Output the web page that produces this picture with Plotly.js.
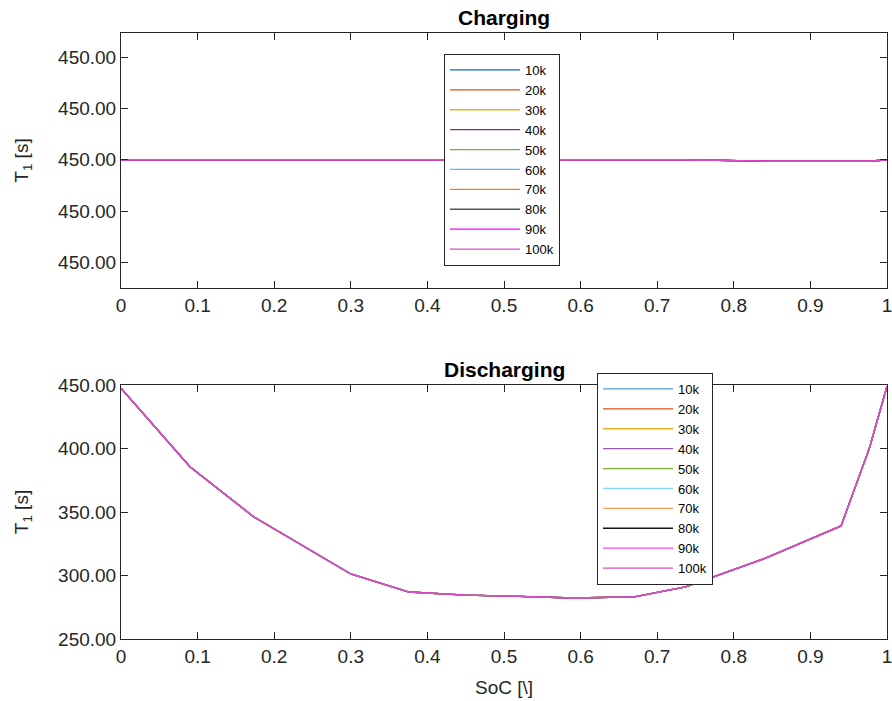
<!DOCTYPE html>
<html><head><meta charset="utf-8">
<script src="https://cdn.plot.ly/plotly-3.0.1.min.js"></script>
<style>body{margin:0;background:#fff}#chart{width:892px;height:701px}</style>
</head><body><div id="chart"></div>
<script>
const seriesNames = ['10k','20k','30k','40k','50k','60k','70k','80k','90k','100k'];
const socCharge = [0, 0.09, 0.173, 0.3, 0.376, 0.45, 0.52, 0.59, 0.67, 0.737, 0.843, 0.94, 0.977, 1.0];
const t1Charge = [450, 450, 450, 450, 450, 450, 450, 450, 450, 450, 449.999997, 449.999997, 449.999997, 450];
const socDischarge = [0, 0.09, 0.173, 0.3, 0.376, 0.45, 0.52, 0.59, 0.67, 0.737, 0.843, 0.94, 0.977, 1.0];
const t1Discharge = [447.5, 385.7, 346.3, 301.2, 287.0, 284.6, 283.5, 282.3, 283.1, 291.0, 314.0, 339.0, 400.2, 449.0];
const colorsCharge = ['#0072BD','#D95319','#EDB120','#7E2F8E','#77AC30','#4DBEEE','#F07F1E','#555555','#FF00FF','#D652C4'];
const colorsDischarge = ['#4C9FD8','#D95319','#EDB120','#9B59B6','#77AC30','#80D4F5','#F2A055','#111111','#FF44FF','#D652C4'];
const chargeTicks = [449.9998, 449.9999, 450, 450.0001, 450.0002];
const dischargeTicks = [250, 300, 350, 400, 450];
const xTicks = [0,0.1,0.2,0.3,0.4,0.5,0.6,0.7,0.8,0.9,1];
const xTickText = ['0','0.1','0.2','0.3','0.4','0.5','0.6','0.7','0.8','0.9','1'];

const traces = [];
seriesNames.forEach((n,i)=>{
  traces.push({x: socCharge, y: t1Charge, name: n, mode:'lines', xaxis:'x', yaxis:'y',
    line:{color: colorsCharge[i], width:1.3}, legend:'legend'});
});
seriesNames.forEach((n,i)=>{
  traces.push({x: socDischarge, y: t1Discharge, name: n, mode:'lines', xaxis:'x2', yaxis:'y2',
    line:{color: colorsDischarge[i], width:1.3}, legend:'legend2'});
});

const H = 701, PW = 766;
const FF = 'Liberation Sans, Arial, sans-serif';
const tickFont = {family:FF, size:19, color:'#262626'};
const axBase = {showgrid:false, zeroline:false, showline:true, linecolor:'#262626', linewidth:1,
  mirror:'ticks', ticks:'inside', ticklen:7, tickcolor:'#262626', tickfont:tickFont, ticklabeloverflow:'allow'};
const legFont = {family:FF, size:13, color:'#000'};

const layout = {
  width:892, height:701, paper_bgcolor:'#fff', plot_bgcolor:'#fff',
  margin:{l:121, r:5, t:0, b:0},
  showlegend:true,
  xaxis: Object.assign({}, axBase, {domain:[0,1], anchor:'y', range:[0,1], tickvals:xTicks, ticktext:xTickText}),
  yaxis: Object.assign({}, axBase, {domain:[1-288/H, 1-33/H], anchor:'x', range:[449.99975, 450.000247],
    tickvals:chargeTicks, tickformat:'.2f',
    title:{text:'T<sub>1</sub> [s]', font:{family:FF, size:19, color:'#262626'}, standoff:24}}),
  xaxis2: Object.assign({}, axBase, {domain:[0,1], anchor:'y2', range:[0,1], tickvals:xTicks, ticktext:xTickText,
    title:{text:'SoC [\\]', font:{family:FF, size:19, color:'#262626'}, standoff:14}}),
  yaxis2: Object.assign({}, axBase, {domain:[1-639/H, 1-385/H], anchor:'x2', range:[250,450],
    tickvals:dischargeTicks, tickformat:'.2f',
    title:{text:'T<sub>1</sub> [s]', font:{family:FF, size:19, color:'#262626'}, standoff:24}}),
  legend:{x:(444-121)/PW, y:1-160/H, xanchor:'left', yanchor:'middle', bgcolor:'#fff', bordercolor:'#262626', borderwidth:1,
    font:legFont, itemwidth:70, tracegroupgap:0},
  legend2:{x:(597-121)/PW, y:1-479/H, xanchor:'left', yanchor:'middle', bgcolor:'#fff', bordercolor:'#262626', borderwidth:1,
    font:legFont, itemwidth:70, tracegroupgap:0},
  annotations:[
    {text:'<b>Charging</b>', x:0.5, y:1-17/H, xref:'paper', yref:'paper', yanchor:'middle', showarrow:false,
      font:{family:FF, size:21, color:'#000'}},
    {text:'<b>Discharging</b>', x:0.5, y:1-369/H, xref:'paper', yref:'paper', yanchor:'middle', showarrow:false,
      font:{family:FF, size:21, color:'#000'}}
  ]
};
Plotly.newPlot('chart', traces, layout, {displayModeBar:false, staticPlot:true});
</script></body></html>
